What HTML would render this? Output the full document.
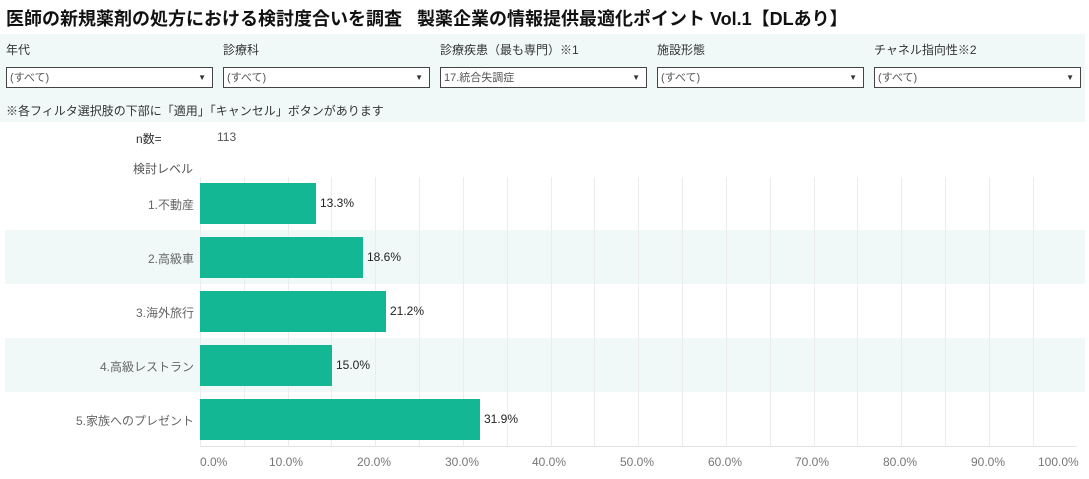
<!DOCTYPE html>
<html><head><meta charset="utf-8"><style>
body{margin:0;width:1089px;height:479px;background:#fff;font-family:"Liberation Sans","Noto Sans CJK JP",sans-serif;position:relative;overflow:hidden}
.a{position:absolute;white-space:nowrap}
.t{left:6px;top:5px;font-size:18px;font-weight:bold;color:#111}
.panel{left:0;top:34px;width:1085px;height:88px;background:#f0f8f8}
.lab{font-size:12px;color:#333;top:41px}
.dd{top:67px;height:19px;width:205px;border:1px solid #444;background:#fff;font-size:11px;color:#555;line-height:20px}
.dd span{padding-left:3px}
.dd i{position:absolute;right:6px;top:0;font-style:normal;font-size:8px;color:#333;line-height:19px}
.band{left:5px;width:1080px;height:54px;background:#f0f8f8}
.bar{left:200px;height:41px;background:#13b794}
.v{font-size:12px;color:#222}
.cat{font-size:12px;color:#666;right:895px;text-align:right}
.g{top:177px;height:270px;width:1px;background:#ececec}
.x{top:455px;font-size:12px;color:#777}
</style></head><body>
<div class="a t">医師の新規薬剤の処方における検討度合いを調査&nbsp;&nbsp;&nbsp;製薬企業の情報提供最適化ポイント Vol.1【DLあり】</div>
<div class="a panel"></div>
<div class="a lab" style="left:6px">年代</div>
<div class="a lab" style="left:223px">診療科</div>
<div class="a lab" style="left:440px">診療疾患（最も専門）※1</div>
<div class="a lab" style="left:657px">施設形態</div>
<div class="a lab" style="left:874px">チャネル指向性※2</div>
<div class="a dd" style="left:6px"><span>(すべて)</span><i>▼</i></div>
<div class="a dd" style="left:223px"><span>(すべて)</span><i>▼</i></div>
<div class="a dd" style="left:440px"><span>17.統合失調症</span><i>▼</i></div>
<div class="a dd" style="left:657px"><span>(すべて)</span><i>▼</i></div>
<div class="a dd" style="left:874px"><span>(すべて)</span><i>▼</i></div>
<div class="a" style="left:6px;top:102px;font-size:12px;color:#333">※各フィルタ選択肢の下部に「適用」「キャンセル」ボタンがあります</div>
<div class="a" style="left:136px;top:130px;font-size:12px;color:#333">n数=</div>
<div class="a" style="left:217px;top:130px;font-size:12px;color:#555">113</div>
<div class="a" style="left:133px;top:160px;font-size:12px;color:#555">検討レベル</div>
<div class="a band" style="top:230px"></div>
<div class="a band" style="top:338px"></div>
<div class="a g" style="left:200px"></div><div class="a g" style="left:244px"></div><div class="a g" style="left:288px"></div><div class="a g" style="left:331px"></div><div class="a g" style="left:375px"></div><div class="a g" style="left:419px"></div><div class="a g" style="left:463px"></div><div class="a g" style="left:507px"></div><div class="a g" style="left:551px"></div><div class="a g" style="left:594px"></div><div class="a g" style="left:638px"></div><div class="a g" style="left:682px"></div><div class="a g" style="left:726px"></div><div class="a g" style="left:770px"></div><div class="a g" style="left:814px"></div><div class="a g" style="left:857px"></div><div class="a g" style="left:901px"></div><div class="a g" style="left:945px"></div><div class="a g" style="left:989px"></div><div class="a g" style="left:1033px"></div>
<div class="a" style="left:200px;top:446px;width:877px;height:1px;background:#e4e4e4"></div>
<div class="a bar" style="top:183px;width:116px"></div><div class="a v" style="left:320px;top:196px">13.3%</div>
<div class="a bar" style="top:237px;width:163px"></div><div class="a v" style="left:367px;top:250px">18.6%</div>
<div class="a bar" style="top:291px;width:186px"></div><div class="a v" style="left:390px;top:304px">21.2%</div>
<div class="a bar" style="top:345px;width:132px"></div><div class="a v" style="left:336px;top:358px">15.0%</div>
<div class="a bar" style="top:399px;width:280px"></div><div class="a v" style="left:484px;top:412px">31.9%</div>
<div class="a cat" style="top:196px">1.不動産</div>
<div class="a cat" style="top:250px">2.高級車</div>
<div class="a cat" style="top:304px">3.海外旅行</div>
<div class="a cat" style="top:358px">4.高級レストラン</div>
<div class="a cat" style="top:412px">5.家族へのプレゼント</div>
<div class="a x" style="left:200px">0.0%</div>
<div class="a x" style="left:269px">10.0%</div>
<div class="a x" style="left:357px">20.0%</div>
<div class="a x" style="left:445px">30.0%</div>
<div class="a x" style="left:532px">40.0%</div>
<div class="a x" style="left:620px">50.0%</div>
<div class="a x" style="left:708px">60.0%</div>
<div class="a x" style="left:795px">70.0%</div>
<div class="a x" style="left:883px">80.0%</div>
<div class="a x" style="left:971px">90.0%</div>
<div class="a x" style="left:1038px">100.0%</div>
</body></html>
